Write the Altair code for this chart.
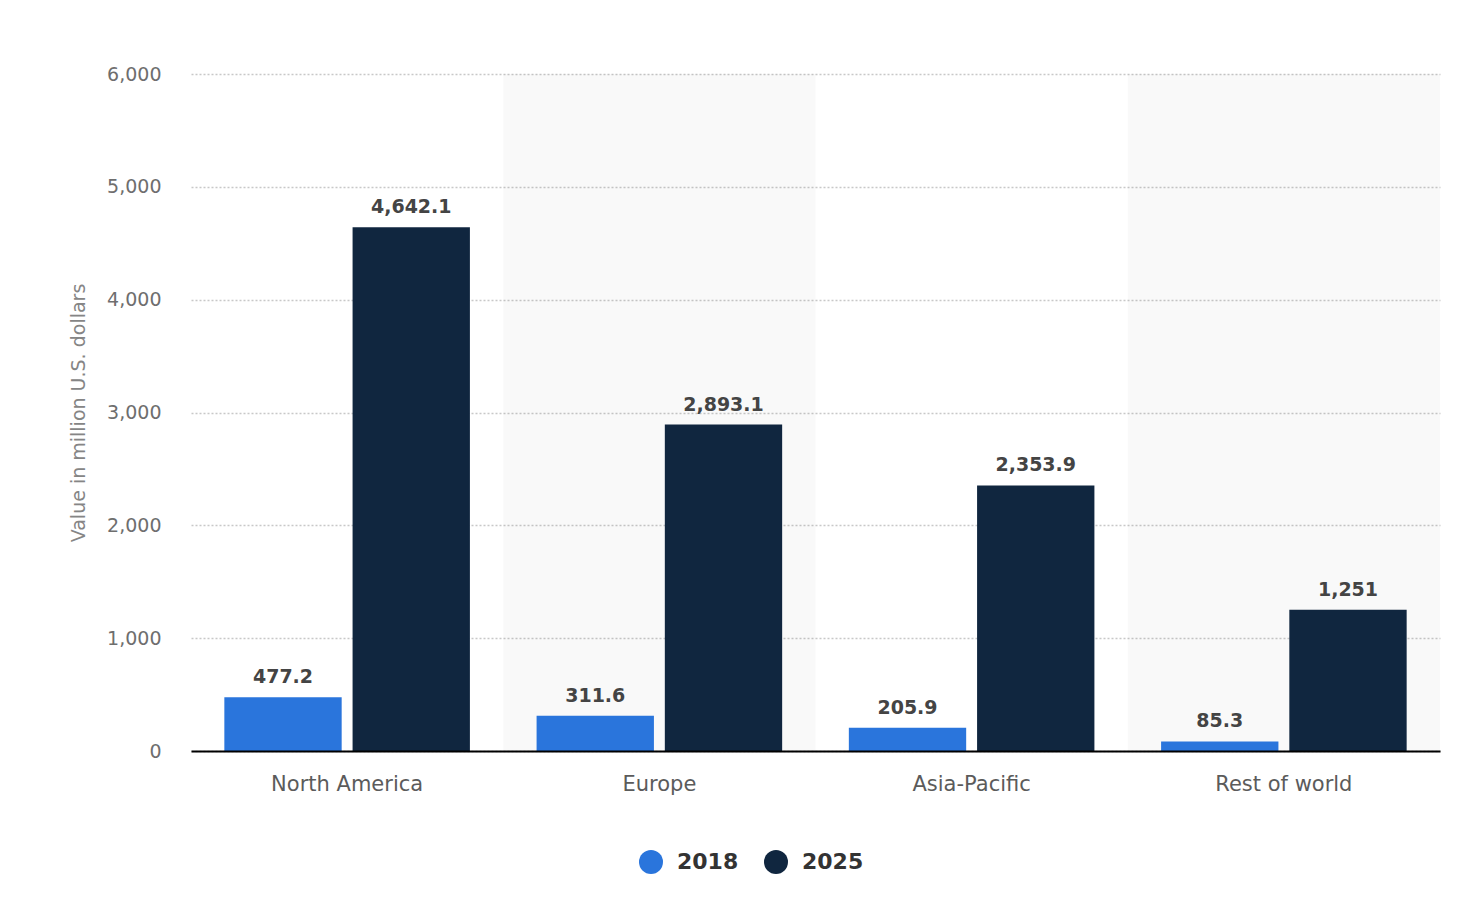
import altair as alt
import pandas as pd

regions = ["North America", "Europe", "Asia-Pacific", "Rest of world"]
years = ["2018", "2025"]
values_2018 = [477.2, 311.6, 205.9, 85.3]
values_2025 = [4642.1, 2893.1, 2353.9, 1251]
y_ticks = [0, 1000, 2000, 3000, 4000, 5000, 6000]
shaded = ["Europe", "Rest of world"]
colors = ["#2a75dc", "#10263f"]

rows = []
for r, a, b in zip(regions, values_2018, values_2025):
    rows.append({"region": r, "year": "2018", "value": a})
    rows.append({"region": r, "year": "2025", "value": b})
df = pd.DataFrame(rows)
bands = pd.DataFrame({"region": shaded})

FONT = "DejaVu Sans"
W, H = 1249, 677

x_enc = alt.X("region:N", sort=regions,
              scale=alt.Scale(paddingInner=0, paddingOuter=0),
              axis=alt.Axis(title=None, labelFontSize=21, labelColor="#5b5b5b",
                            labelFont=FONT, labelPadding=22, ticks=False,
                            domainColor="#000000", domainWidth=2, labelAngle=0))

band_layer = alt.Chart(bands).mark_rect(color="#000000", opacity=0.024).encode(
    x=x_enc,
    y=alt.value(0),
    y2=alt.value(H),
)

y_enc = alt.Y("value:Q",
              scale=alt.Scale(domain=[0, 6000], nice=False),
              axis=alt.Axis(title="Value in million U.S. dollars", values=y_ticks,
                            format=",.0f", labelFontSize=19, labelColor="#6e6e6e",
                            labelFont=FONT, labelPadding=30, ticks=False, domain=False,
                            titleFont=FONT, titleFontSize=19, titleColor="#858585",
                            titleFontWeight="normal", titlePadding=18,
                            grid=True, gridColor="#c8c8c8", gridDash=[2, 2],
                            gridWidth=1.5))

xoff = alt.XOffset("year:N", sort=years,
                   scale=alt.Scale(paddingInner=0.085, paddingOuter=0.26))

bars = alt.Chart(df).mark_bar().encode(
    x=x_enc,
    xOffset=xoff,
    y=y_enc,
    color=alt.Color("year:N", sort=years,
                    scale=alt.Scale(domain=years, range=colors),
                    legend=alt.Legend(title=None, orient="none", direction="horizontal",
                                      legendX=448, legendY=776, padding=0,
                                      symbolType="circle", symbolSize=576,
                                      symbolStrokeWidth=0, labelFont=FONT,
                                      labelFontSize=22, labelFontWeight="bold",
                                      labelColor="#333333", labelOffset=14,
                                      columnPadding=25)),
)

labels = alt.Chart(df).mark_text(baseline="alphabetic", dy=-14, font=FONT,
                                 fontSize=19, fontWeight="bold",
                                 color="#444444").encode(
    x=x_enc,
    xOffset=xoff,
    y=alt.Y("value:Q", scale=alt.Scale(domain=[0, 6000], nice=False)),
    text=alt.Text("value:Q", format=","),
)

chart = alt.layer(band_layer, bars, labels).properties(
    width=W, height=H,
    background="#ffffff",
    autosize=alt.AutoSizeParams(type="none"),
    padding={"left": 183, "top": 66, "right": 30, "bottom": 150},
).configure_view(stroke=None)

chart.save("out.html", embed_options={"renderer": "svg", "actions": False})
